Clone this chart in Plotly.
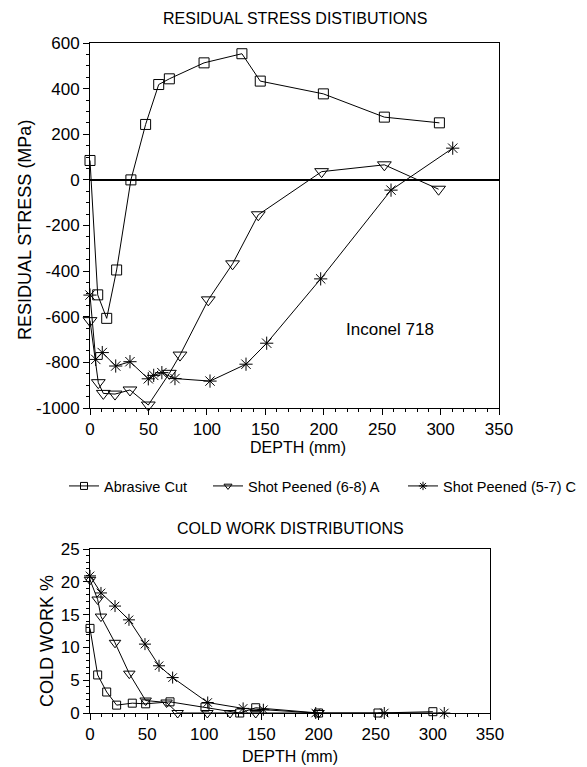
import plotly.graph_objects as go

W, H = 587, 767
FONT = "Liberation Sans, Arial, sans-serif"

# ---------------- Residual stress data (depth mm, stress MPa) ----------------
ac_depth = [0, 6.6, 14.3, 22.8, 35, 47.6, 58.8, 67.9, 97.6, 130, 145.7, 199.7, 251.9, 299]
ac_stress = [85, -504, -607, -395, 0, 243, 418, 443, 513, 553, 433, 377, 275, 250]

spa_depth = [0, 7.1, 11.4, 21.4, 34.2, 49.9, 67.9, 77, 101.2, 122, 144, 198.2, 251.9, 298.3]
spa_stress = [-617, -889, -936, -939, -921, -987, -848, -768, -526, -368, -153, 36, 66, -41]

spc_depth = [0, 4.9, 10.5, 22, 34.2, 49.9, 54.5, 61.5, 72.7, 102.7, 133.5, 151.2, 197.4, 257.6, 310.4]
spc_stress = [-505, -787, -757, -816, -797, -872, -857, -845, -871, -882, -808, -716, -434, -45, 139]

# ---------------- Cold work data (depth mm, %) ----------------
cw_ac_depth = [0, 6.7, 14.6, 23.3, 37, 48.7, 70, 100.6, 131, 145, 200, 252, 300]
cw_ac_val = [12.9, 5.8, 3.2, 1.2, 1.5, 1.4, 1.7, 0.9, 0.0, 0.8, 0.0, 0.0, 0.2]

cw_a_depth = [0, 6.7, 9.6, 21.9, 34.4, 48.7, 67, 76.7, 102.7, 122.5, 145, 200]
cw_a_val = [20.3, 17.3, 14.7, 10.7, 6.0, 1.9, 1.6, 0.0, 0.0, 0.0, 0.0, 0.0]

cw_c_depth = [0, 9.6, 21.9, 34.1, 48.1, 60.4, 72.3, 103, 134, 151.7, 197.5, 257.5, 310]
cw_c_val = [20.9, 18.3, 16.3, 14.2, 10.5, 7.2, 5.4, 1.6, 0.7, 0.5, 0.0, 0.0, 0.0]

series_names = ["Abrasive Cut", "Shot Peened (6-8) A", "Shot Peened (5-7) C"]
x_ticks = [0, 50, 100, 150, 200, 250, 300, 350]
stress_ticks = [-1000, -800, -600, -400, -200, 0, 200, 400, 600]
stress_labels = ["-1000", "-800", "-600", "-400", "-200", "0", "200", "400", "600"]
cw_ticks = [0, 5, 10, 15, 20, 25]

SYM = ["square-open", "triangle-down-open", "asterisk-open"]
SIZE_TOP = [10, 12, 11]
SIZE_BOT = [8, 10, 10]

fig = go.Figure()

top = [(ac_depth, ac_stress), (spa_depth, spa_stress), (spc_depth, spc_stress)]
bot = [(cw_ac_depth, cw_ac_val), (cw_a_depth, cw_a_val), (cw_c_depth, cw_c_val)]

for i, (xs, ys) in enumerate(top):
    fig.add_trace(go.Scatter(
        x=xs, y=ys, mode="lines+markers", xaxis="x", yaxis="y",
        line=dict(color="black", width=1),
        marker=dict(symbol=SYM[i], size=SIZE_TOP[i], color="black",
                    line=dict(color="black", width=1)),
        cliponaxis=False, showlegend=False, name=series_names[i]))

for i, (xs, ys) in enumerate(bot):
    fig.add_trace(go.Scatter(
        x=xs, y=ys, mode="lines+markers", xaxis="x2", yaxis="y2",
        line=dict(color="black", width=1),
        marker=dict(symbol=SYM[i], size=SIZE_BOT[i], color="black",
                    line=dict(color="black", width=1)),
        cliponaxis=False, showlegend=False, name=series_names[i]))

legend_ids = ["legend", "legend2", "legend3"]
for i, name in enumerate(series_names):
    fig.add_trace(go.Scatter(
        x=[None], y=[None], mode="lines+markers", xaxis="x", yaxis="y",
        line=dict(color="black", width=1),
        marker=dict(symbol=SYM[i], size=7, color="black",
                    line=dict(color="black", width=1)),
        name=name, showlegend=True, legend=legend_ids[i]))

def ax_common():
    return dict(
        showline=True, linecolor="black", linewidth=1, mirror=True, automargin=False,
        showgrid=False, ticks="outside", ticklen=6, tickcolor="black",
        tickfont=dict(family=FONT, size=17, color="black"),
    )

leg_x = [64, 208, 403]
legends = {}
for i, lid in enumerate(legend_ids):
    legends[lid] = dict(x=leg_x[i] / W, y=1 - 486 / H, xanchor="left", yanchor="middle",
                        orientation="h", bgcolor="rgba(0,0,0,0)", borderwidth=0,
                        font=dict(family=FONT, size=14.5, color="black"))

fig.update_layout(
    width=W, height=H, margin=dict(l=0, r=0, t=0, b=0, autoexpand=False),
    paper_bgcolor="white", plot_bgcolor="white",
    xaxis=dict(domain=[90 / W, 499 / W], range=[0, 350], tickvals=x_ticks, anchor="y",
               minor=dict(dtick=10, ticks="outside", ticklen=3, tickcolor="black"),
               zeroline=False, **ax_common()),
    yaxis=dict(domain=[1 - 408 / H, 1 - 43 / H], range=[-1000, 600],
               tickvals=stress_ticks, ticktext=stress_labels, anchor="x",
               minor=dict(dtick=50, ticks="outside", ticklen=3, tickcolor="black"),
               zeroline=True, zerolinecolor="black", zerolinewidth=2, **ax_common()),
    xaxis2=dict(domain=[90 / W, 490 / W], range=[0, 350], tickvals=x_ticks, anchor="y2",
                minor=dict(dtick=10, ticks="outside", ticklen=3, tickcolor="black"),
                zeroline=False, **ax_common()),
    yaxis2=dict(domain=[1 - 713 / H, 1 - 549 / H], range=[0, 25], tickvals=cw_ticks, anchor="x2",
                minor=dict(dtick=1, ticks="outside", ticklen=3, tickcolor="black"),
                zeroline=False, **ax_common()),
    **legends,
)

def ann(text, x, y, size, angle=0):
    fig.add_annotation(text=text, x=x / W, y=1 - y / H, xref="paper", yref="paper",
                       showarrow=False, textangle=angle, xanchor="center", yanchor="middle",
                       font=dict(family=FONT, size=size, color="black"))

ann("RESIDUAL STRESS DISTIBUTIONS", 295, 18, 16)
ann("DEPTH (mm)", 298, 447, 16)
ann("RESIDUAL STRESS (MPa)", 25, 230, 18, -90)
ann("Inconel 718", 390, 330, 17)
ann("COLD WORK DISTRIBUTIONS", 290, 528, 16)
ann("DEPTH (mm)", 290, 756, 16)
ann("COLD WORK %", 47, 641, 18, -90)

fig.write_html("out.html", config={"displayModeBar": False},
               post_script="document.body.style.margin='0px';document.body.style.overflow='hidden';")
